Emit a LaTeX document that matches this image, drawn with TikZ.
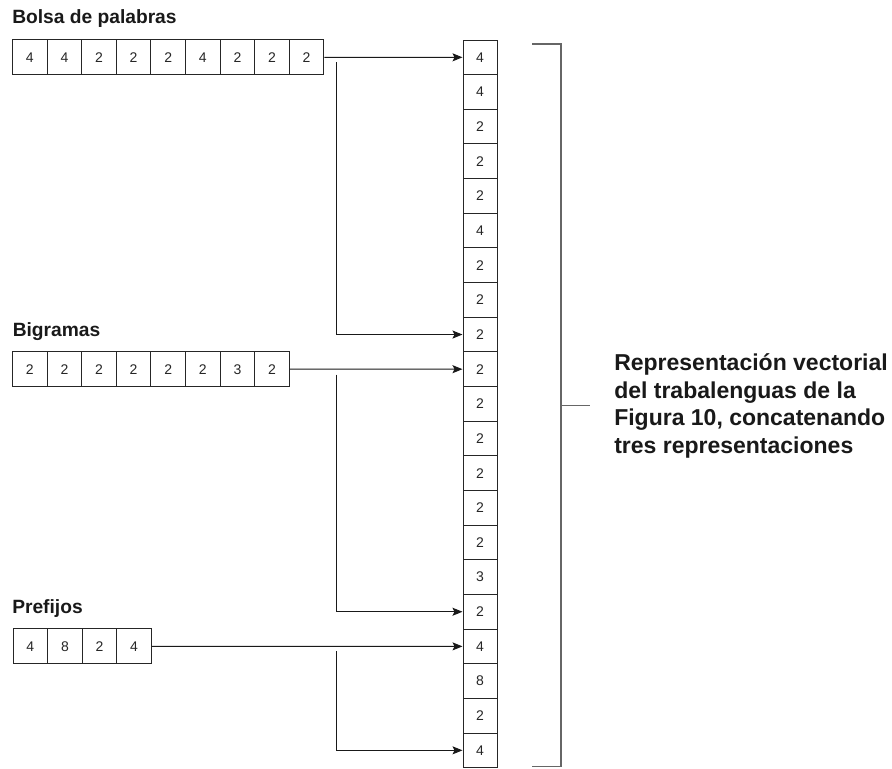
\documentclass[tikz,border=0pt]{standalone}
\usepackage{fontspec}
\setmainfont{Liberation Sans}
\usetikzlibrary{arrows.meta}
\begin{document}
\begin{tikzpicture}[x=0.75pt,y=-0.75pt,
  cell/.style={draw=black!85, line width=0.75pt, fill=white,
    minimum width=25.95pt, minimum height=25.99pt, inner sep=0pt,
    font=\fontsize{10.5}{12}\selectfont, text=black!85},
  colcell/.style={cell, minimum width=25.5pt},
  lbl/.style={font=\bfseries\fontsize{14.4}{17}\selectfont, anchor=base west, inner sep=0pt, text=black!90},
  conn/.style={draw=black!90, line width=0.75pt, -{Stealth[length=7.5pt,width=6pt,inset=1.5pt]}},
  brk/.style={draw=black!60, line width=1.1pt},
  desc/.style={font=\bfseries\fontsize{17.25}{20.6}\selectfont, anchor=west, align=left, inner sep=0pt, text=black!90}]
\useasboundingbox (0,0) rectangle (892,768);

% labels
\node[lbl] (lbolsa) at (12,23.5) {Bolsa de palabras};
\node[lbl] (lbig) at (12.5,336) {Bigramas};
\node[lbl] (lpre) at (12,613.5) {Prefijos};

% rows
\foreach \v [count=\i] in {4,4,2,2,2,4,2,2,2}
  \node[cell] (a\i) at ({12.5+34.6*(\i-0.5)},57.3) {\v};
\foreach \v [count=\i] in {2,2,2,2,2,2,3,2}
  \node[cell] (b\i) at ({12.5+34.6*(\i-0.5)},369.2) {\v};
\foreach \v [count=\i] in {4,8,2,4}
  \node[cell] (p\i) at ({13+34.6*(\i-0.5)},646.3) {\v};

% column
\foreach \v [count=\i from 0] in {4,4,2,2,2,4,2,2,2,2,2,2,2,2,2,3,2,4,8,2,4}
  \node[colcell] (c\i) at (480,{40+34.65*(\i+0.5)}) {\v};

% connectors
\coordinate (abr) at (336,62);
\coordinate (bbr) at (336,374.5);
\coordinate (pbr) at (336,651);
\draw[conn] (a9.east) -- (c0.west);
\draw[conn] (abr) |- (c8.west);
\draw[conn] (b8.east) -- (c9.west);
\draw[conn] (bbr) |- (c16.west);
\draw[conn] (p4.east) -- (c17.west);
\draw[conn] (pbr) |- (c20.west);

% bracket
\coordinate (bt) at (532,44);
\coordinate (bb) at (532,766.5);
\coordinate (bm) at (561,405.5);
\coordinate (bmt) at (590,405.5);
\draw[brk] (bt) -- (561,44) -- (561,766.5) -- (bb);
\draw[brk] (bm) -- (bmt);

\node[desc] (txt) at (614,406) {Representación vectorial\\del trabalenguas de la\\Figura 10, concatenando\\tres representaciones};
\end{tikzpicture}
\end{document}
